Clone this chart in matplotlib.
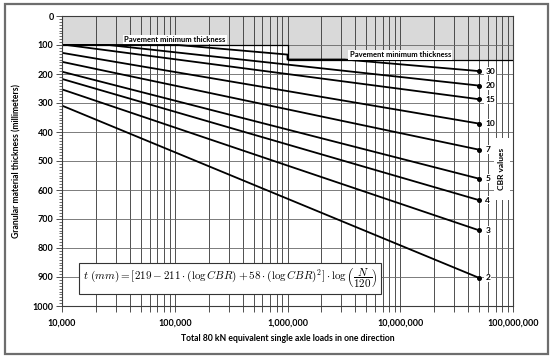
import matplotlib
matplotlib.use("Agg")
import matplotlib.pyplot as plt
from matplotlib.patches import Rectangle
from matplotlib.ticker import LogLocator, MultipleLocator, FuncFormatter, NullFormatter

# ── Data ──────────────────────────────────────────────────────────────────────

cbr_labels = ["30", "20", "15", "10", "7", "5", "4", "3", "2"]

# vertices of each CBR line: loads (ESAL) and granular thickness (mm)
line_loads = [
    [1e4, 1.07e5, 1e6, 1e6, 3.2e6, 5e7],
    [1e4, 2.6e4, 5e7],
    [1e4, 1.1e4, 5e7],
    [1e4, 5e7],
    [1e4, 5e7],
    [1e4, 5e7],
    [1e4, 5e7],
    [1e4, 5e7],
    [1e4, 5e7],
]
line_thick = [
    [100, 100, 133, 150, 150, 190],
    [100, 100, 240],
    [100, 100, 287],
    [127, 371],
    [158, 461],
    [192, 561],
    [217, 635],
    [253, 739],
    [309, 903],
]

# pavement minimum thickness (shaded zone)
min_loads = [1e4, 1e6, 1e6, 1e8]
min_thick = [100, 100, 150, 150]

# ── Style ─────────────────────────────────────────────────────────────────────

plt.rcParams.update({
    "font.family": ["Lato", "DejaVu Sans"],
    "font.size": 6.5,
    "mathtext.fontset": "cm",
})

SHADE = "#d9d9d9"
GRID = "#333333"
FRAME = "#6d6d6d"

fig = plt.figure(figsize=(5.56, 3.62), dpi=100)
ax = fig.add_axes([62 / 556, 1 - 306 / 362, 451 / 556, 290 / 362])

ax.set_xscale("log")
ax.set_xlim(1e4, 1e8)
ax.set_ylim(1000, 0)

# shaded minimum thickness zone
ax.fill_between(min_loads, 0, min_thick, color=SHADE, lw=0, zorder=0.3)
ax.plot(min_loads, min_thick, color="black", lw=0.9, zorder=1.5)

# CBR lines
for loads, thick, lab in zip(line_loads, line_thick, cbr_labels):
    ax.plot(loads, thick, color="black", lw=1.3, zorder=2,
            marker="o", ms=2.6, markevery=[len(loads) - 1])
    ax.annotate(lab, xy=(loads[-1], thick[-1]), xytext=(4.5, 0),
                textcoords="offset points", ha="left", va="center",
                fontsize=6, fontweight="bold", zorder=4,
                bbox=dict(boxstyle="square,pad=0.1", fc="white", ec="none"))

# "CBR values" box
ax.add_patch(Rectangle((0.958, 0.366), 0.035, 0.213, transform=ax.transAxes,
                       fc="white", ec="none", zorder=3))
ax.text(0.9755, 0.4725, "CBR values", transform=ax.transAxes, rotation=90,
        ha="center", va="center", fontsize=6, fontweight="bold", zorder=4)

# minimum thickness labels
for xx, yy in [(1e5, 81), (1e7, 134)]:
    ax.text(xx, yy, "Pavement minimum thickness", ha="center", va="center",
            fontsize=5.5, fontweight="bold", zorder=4,
            bbox=dict(boxstyle="square,pad=0.15", fc="white", ec="none"))

# design formula
ax.text(0.372, 0.095,
        r"$t\ (mm) = [219 - 211\cdot(\log CBR) + 58\cdot(\log CBR)^2]\cdot"
        r"\log\left(\dfrac{N}{120}\right)$",
        transform=ax.transAxes, ha="center", va="center", fontsize=8, zorder=5,
        bbox=dict(boxstyle="square,pad=0.35", fc="white", ec="#333333", lw=0.8))

# ticks & grid
ax.xaxis.set_major_locator(LogLocator(base=10, numticks=10))
ax.xaxis.set_minor_locator(LogLocator(base=10, subs=range(2, 10), numticks=20))
ax.xaxis.set_major_formatter(FuncFormatter(lambda v, _: f"{v:,.0f}"))
ax.xaxis.set_minor_formatter(NullFormatter())
ax.yaxis.set_major_locator(MultipleLocator(100))
ax.yaxis.set_minor_locator(MultipleLocator(10))

ax.set_axisbelow(True)
ax.grid(which="both", axis="x", color=GRID, lw=0.6)
ax.grid(which="major", axis="y", color="#666666", lw=0.6)

ax.tick_params(axis="x", which="both", direction="out", length=4, width=0.6,
               color=GRID, pad=5)
ax.tick_params(axis="y", which="major", direction="out", length=4, width=0.6,
               color=GRID, pad=2)
ax.tick_params(axis="y", which="minor", direction="out", length=2.5, width=0.5,
               color=GRID)
for lbl in ax.get_xticklabels() + ax.get_yticklabels():
    lbl.set_fontweight("bold")

for sp in ax.spines.values():
    sp.set_color("#3c3c3c")
    sp.set_linewidth(0.8)

ax.set_xlabel("Total 80 kN equivalent single axle loads in one direction",
              fontweight="bold", fontsize=6.2, labelpad=5)
ax.set_ylabel("Granular material thickness (millimeters)",
              fontweight="bold", fontsize=6.2, labelpad=8)

# outer frame
fig.patches.append(Rectangle((5 / 556, 8 / 362), 543 / 556, 350 / 362,
                             transform=fig.transFigure, fill=False,
                             ec=FRAME, lw=1.6))

fig.savefig("out.png", dpi=100)
